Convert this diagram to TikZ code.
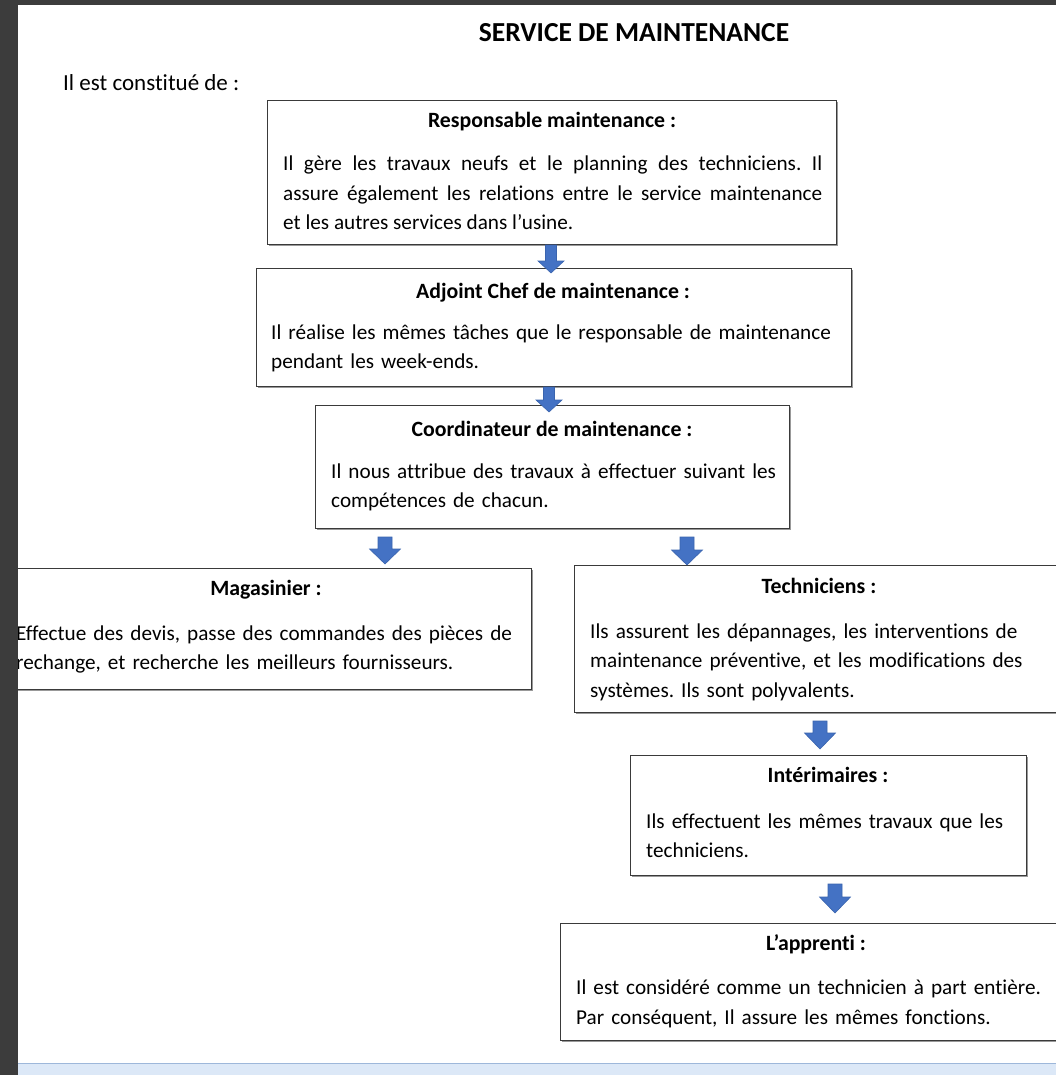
\documentclass[tikz,border=0pt]{standalone}
\usepackage{fontspec}
\setmainfont[Ligatures=NoCommon]{Carlito}
\usetikzlibrary{shadows}
\definecolor{frame}{HTML}{3C3C3C}
\definecolor{arrowblue}{HTML}{4472C4}
\definecolor{arrowedge}{HTML}{3A64AE}
\definecolor{boxline}{HTML}{3A3A3A}
\definecolor{stripline}{HTML}{9DB7DA}
\definecolor{stripfill}{HTML}{DCE8F7}
\frenchspacing
\newcommand\boxnode[5]{\node[orgbox, anchor=north west, minimum width={#4-#2}, minimum height={#5-#3}] (#1) at (#2,#3) {};}
\newcommand\barrow[7]{\fill[arrowblue, draw=arrowedge, line width=0.6pt] (#2-#5,#3) -- (#2+#5,#3) -- (#2+#5,#4-#7) -- (#2+#6,#4-#7) -- (#2,#4) -- (#2-#6,#4-#7) -- (#2-#5,#4-#7) -- cycle; \coordinate (#1) at (#2,#4);}
\begin{document}
\begin{tikzpicture}[x=1pt, y=-1pt,
  orgbox/.style={draw=boxline, line width=1.3pt, fill=white, inner sep=0pt,
    drop shadow={shadow xshift=1.6pt, shadow yshift=-1.8pt, fill=black!40, opacity=1}},
  boxtitle/.style={anchor=base, inner sep=0pt, font=\fontsize{21.8}{29.5}\selectfont\bfseries},
  body/.style={anchor=base west, inner sep=0pt, text width=620pt, align=left, font=\fontsize{21.2}{29.5}\selectfont}]
\useasboundingbox (0,0) rectangle (1056,1075);
\fill[white] (0,0) rectangle (1056,1075);

% heading
\node[anchor=base, inner sep=0pt, font=\fontsize{27.5}{30}\selectfont\bfseries] (title) at (634,42) {SERVICE DE MAINTENANCE};
\node[anchor=base west, inner sep=0pt, font=\fontsize{23}{29.5}\selectfont] (intro) at (63,91) {Il est constitué de :};

% boxes
\boxnode{b1}{267}{100}{836}{244}
\boxnode{b2}{256}{268}{851}{386}
\boxnode{b3}{315}{405}{789}{528}
\boxnode{b4}{6}{568}{531}{689}
\boxnode{b5}{574}{565}{1075}{712}
\boxnode{b6}{630}{755}{1026}{875}
\boxnode{b7}{560}{923}{1075}{1040}

% texts
\node[boxtitle] (b1h) at (552,128) {Responsable maintenance :};
\node[body, text width=539pt, align=justify] (b1x) at (283,171) {Il gère les travaux neufs et le planning des techniciens. Il\linebreak assure également les relations entre le service maintenance\linebreak et les autres services dans l’usine.};

\node[boxtitle] (b2h) at (553,298) {Adjoint Chef de maintenance :};
\node[body] (b2x) at (271,339) {Il réalise les mêmes tâches que le responsable de maintenance\\pendant les week-ends.};

\node[boxtitle] (b3h) at (552,436) {Coordinateur de maintenance :};
\node[body] (b3x) at (331,478) {Il nous attribue des travaux à effectuer suivant les\\compétences de chacun.};

\node[boxtitle] (b4h) at (266,595) {Magasinier :};
\node[body] (b4x) at (16,640) {Effectue des devis, passe des commandes des pièces de\\rechange, et recherche les meilleurs fournisseurs.};

\node[boxtitle] (b5h) at (819,593) {Techniciens :};
\node[body] (b5x) at (590,638) {Ils assurent les dépannages, les interventions de\\maintenance préventive, et les modifications des\\systèmes. Ils sont polyvalents.};

\node[boxtitle] (b6h) at (828,782) {Intérimaires :};
\node[body] (b6x) at (646,828) {Ils effectuent les mêmes travaux que les\\techniciens.};

\node[boxtitle] (b7h) at (816,950) {L’apprenti :};
\node[body, font=\fontsize{21.2}{30.5}\selectfont] (b7x) at (576,994) {Il est considéré comme un technicien à part entière.\\Par conséquent, Il assure les mêmes fonctions.};

% block arrows (from box to box)
\barrow{a12}{551}{245}{273}{5.5}{13}{12}
\barrow{a23}{549}{387}{412}{5.5}{13}{12}
\barrow{a34}{385}{537}{564}{7}{15.5}{15}
\barrow{a35}{687}{537}{565}{7}{15.5}{15}
\barrow{a56}{820}{721}{749}{7}{15.5}{16}
\barrow{a67}{835}{884}{913}{7}{15.5}{16}

% window frame
\fill[frame] (0,0) rectangle (1056,5);
\fill[stripfill] (18,1063) rectangle (1056,1075);
\draw[stripline, line width=1.2pt] (18,1063.5) -- (1056,1063.5);
\fill[frame] (0,0) rectangle (18,1075);
\end{tikzpicture}
\end{document}
